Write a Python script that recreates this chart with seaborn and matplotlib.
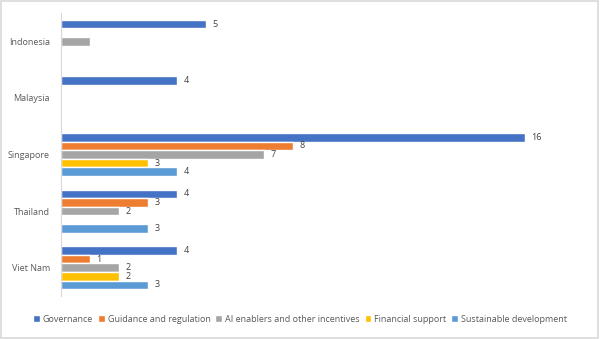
import matplotlib
matplotlib.use("Agg")
import matplotlib.pyplot as plt
import pandas as pd
import seaborn as sns

countries = ["Indonesia", "Malaysia", "Singapore", "Thailand", "Viet Nam"]
series = ["Governance", "Guidance and regulation", "AI enablers and other incentives",
          "Financial support", "Sustainable development"]
governance = [5, 4, 16, 4, 4]
guidance = [0, 0, 8, 3, 1]
enablers = [1, 0, 7, 2, 2]
financial = [0, 0, 3, 0, 2]
sustainable = [0, 0, 4, 3, 3]
colors = ["#4472C4", "#ED7D31", "#A5A5A5", "#FFC000", "#5B9BD5"]
# bars drawn without a value label
unlabelled = {("Indonesia", "AI enablers and other incentives")}

values = [governance, guidance, enablers, financial, sustainable]
rows = []
for s, vals in zip(series, values):
    for c, v in zip(countries, vals):
        rows.append({"country": c, "series": s, "value": v})
df = pd.DataFrame(rows)

sns.set_theme(style="white")
plt.rcParams["font.family"] = ["Open Sans", "DejaVu Sans"]

fig = plt.figure(figsize=(6.0, 3.39), dpi=100)
ax = fig.add_axes([61 / 600, 1 - 296 / 339, (590 - 61) / 600, (296 - 13) / 339])

sns.barplot(data=df, y="country", x="value", hue="series", order=countries,
            hue_order=series, palette=colors, orient="h", width=0.76,
            saturation=1, ax=ax, legend=True, errorbar=None)

unit = 29.0
ax.set_xlim(0, (590 - 61) / unit)
ax.set_xlabel("")
ax.set_ylabel("")
ax.set_xticks([])
for side in ["top", "right", "bottom"]:
    ax.spines[side].set_visible(False)
ax.spines["left"].set_color("#D9D9D9")
ax.spines["left"].set_linewidth(0.8)
ax.tick_params(axis="y", length=0, pad=8, labelsize=6.5, labelcolor="#595959")

for container, s in zip(ax.containers, series):
    for bar, c in zip(container, countries):
        w = bar.get_width()
        if w <= 0 or (c, s) in unlabelled:
            continue
        ax.text(w + 0.22, bar.get_y() + bar.get_height() / 2, f"{int(w)}",
                va="center", ha="left", fontsize=6.5, color="#404040")

handles, labels = ax.get_legend_handles_labels()
ax.get_legend().remove()
fig.legend(handles, labels, loc="center", bbox_to_anchor=(0.5, 1 - 319 / 339),
           ncol=5, frameon=False, fontsize=6.5, labelcolor="#595959",
           handlelength=0.75, handleheight=0.75, handletextpad=0.3, columnspacing=0.55)

fig.patches.append(plt.Rectangle((0.002, 0.003), 0.995, 0.994, transform=fig.transFigure,
                                 fill=False, edgecolor="#D9D9D9", linewidth=1.2))

fig.savefig("out.png", dpi=100)
